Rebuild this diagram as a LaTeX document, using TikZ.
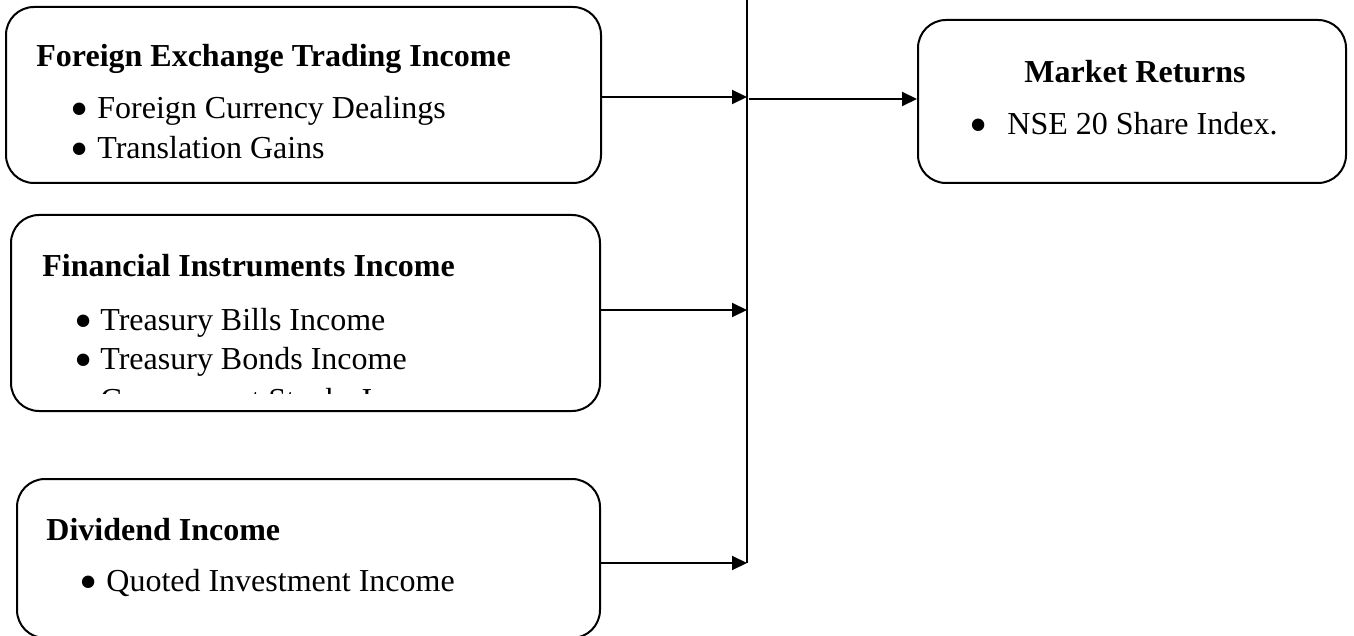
\documentclass[tikz,border=0pt]{standalone}
\usepackage{fontspec}
\setmainfont{Liberation Serif}
\usetikzlibrary{arrows.meta}
\newcommand\bigbul{\smash{\raisebox{-4pt}{\fontsize{26}{26}\selectfont •}}}
\tikzset{
  box/.style={draw, line width=1pt, rounded corners=14pt, inner sep=0pt},
  ttl/.style={font=\bfseries\fontsize{16}{19}\selectfont, anchor=base west, inner sep=0pt},
  itm/.style={font=\fontsize{16}{19}\selectfont, anchor=base west, inner sep=0pt},
  arr/.style={-{Triangle[length=7.5pt,width=7pt]}, line width=1pt},
  trunk/.style={line width=1pt}
}
\begin{document}
\begin{tikzpicture}[x=0.5pt,y=-0.5pt]
\useasboundingbox (0,0) rectangle (1354,636);
% boxes
\node[box, minimum width=297.5pt, minimum height=88pt] (fx) at (303.5,95) {};
\node[box, minimum width=294.5pt, minimum height=98pt] (fi) at (305.5,313) {};
\node[box, minimum width=291.5pt, minimum height=79.5pt] (dv) at (308.5,558.5) {};
\node[box, minimum width=214pt, minimum height=81.5pt] (mr) at (1132,101.5) {};
% box 1 text
\node[ttl] (fxt) at (36,67) {Foreign Exchange Trading Income};
\node[itm] (fx1) at (61,119) {\makebox[18pt]{\bigbul}Foreign Currency Dealings};
\node[itm] (fx2) at (61,159) {\makebox[18pt]{\bigbul}Translation Gains};
% box 2 text
\node[ttl] (fit) at (42,277) {Financial Instruments Income};
\node[itm] (fi1) at (66,330) {\makebox[17pt]{\bigbul}Treasury Bills Income};
\node[itm] (fi2) at (66,369) {\makebox[17pt]{\bigbul}Treasury Bonds Income};
\begin{scope}
\clip (0,0) rectangle (600,393);
\node[itm] (fi3) at (66,410) {\makebox[17pt]{\bigbul}Government Stocks Income};
\end{scope}
% box 3 text
\node[ttl] (dvt) at (46,540) {Dividend Income};
\node[itm] (dv1) at (70,591) {\makebox[18pt]{\bigbul}Quoted Investment Income};
% market box text
\node[ttl, anchor=base] (mrt) at (1135,83) {Market Returns};
\node[itm] (mr1) at (949,135) {\makebox[29pt]{\bigbul}NSE 20 Share Index.};
% trunk
\coordinate (jt) at (747,0);
\coordinate (jb) at (747,563);
\draw[trunk] (jt) -- (jb);
% arrows
\path (fx.east) ++(0,2) coordinate (a1);
\path (fi.east) ++(0,-3) coordinate (a2);
\path (dv.east) ++(0,4.5) coordinate (a3);
\draw[arr] (a1) -- (a1 -| jt);
\draw[arr] (a2) -- (a2 -| jt);
\draw[arr] (a3) -- (a3 -| jt);
\coordinate (m1) at (749,99);
\draw[arr] (m1) -- (m1 -| mr.west);
\end{tikzpicture}
\end{document}
